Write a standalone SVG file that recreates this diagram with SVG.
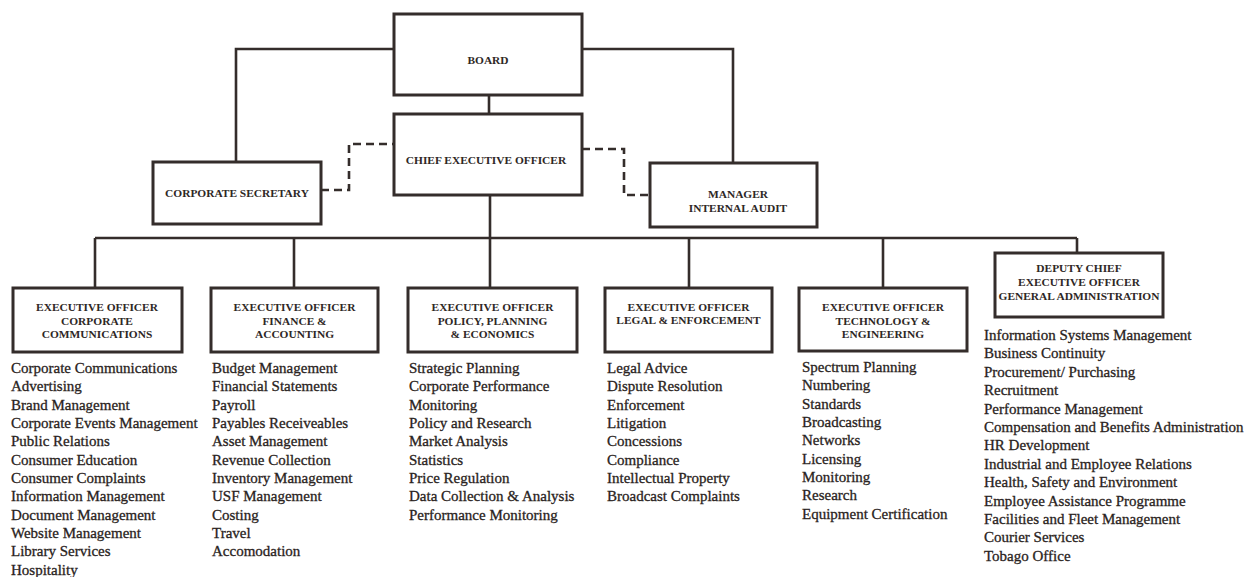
<svg xmlns="http://www.w3.org/2000/svg" width="1246" height="577" viewBox="0 0 1246 577">
<style>
.box{fill:#ffffff;stroke:#342d2b;stroke-width:3}
.ln{fill:none;stroke:#342d2b;stroke-width:2.6}
.dash{fill:none;stroke:#342d2b;stroke-width:2.6;stroke-dasharray:8 5}
.h{font-family:"Liberation Serif","Times New Roman",serif;font-weight:bold;font-size:11.4px;fill:#2e2725;text-anchor:middle}
.l{font-family:"Liberation Serif","Times New Roman",serif;font-size:15px;fill:#2a2321;stroke:#2a2321;stroke-width:0.3}
</style>
<rect width="1246" height="577" fill="#ffffff"/>
<g id="connectors">
<path class="ln" d="M394 49 H236 V162"/>
<path class="ln" d="M582 49 H733 V163"/>
<path class="ln" d="M489 95 V114"/>
<path class="ln" d="M490 195 V238"/>
<path class="ln" d="M95 238 H1077"/>
<path class="ln" d="M95 238 V288"/>
<path class="ln" d="M294 238 V288"/>
<path class="ln" d="M490 238 V288"/>
<path class="ln" d="M689 238 V288"/>
<path class="ln" d="M883 238 V288"/>
<path class="ln" d="M1077 238 V253"/>
<path class="dash" d="M321 190 H349 V144 H394"/>
<path class="dash" d="M582 149 H624 V195 H650"/>
</g>
<g id="board">
<rect class="box" x="394" y="14" width="188" height="81"/>
<text class="h" x="488" y="64">BOARD</text>
</g>
<g id="ceo">
<rect class="box" x="394" y="114" width="188" height="81"/>
<text class="h" x="486" y="164">CHIEF EXECUTIVE OFFICER</text>
</g>
<g id="corporate-secretary">
<rect class="box" x="153" y="162" width="168" height="62"/>
<text class="h" x="237" y="197">CORPORATE SECRETARY</text>
</g>
<g id="internal-audit">
<rect class="box" x="650" y="163" width="167" height="64"/>
<text class="h" x="738" y="198">MANAGER</text>
<text class="h" x="738" y="212">INTERNAL AUDIT</text>
</g>
<g id="eo-corporate-communications">
<rect class="box" x="13" y="288" width="169" height="64"/>
<text class="h" x="97" y="311">EXECUTIVE OFFICER</text>
<text class="h" x="97" y="325">CORPORATE</text>
<text class="h" x="97" y="338">COMMUNICATIONS</text>
<text class="l" x="11" y="373">Corporate Communications</text>
<text class="l" x="11" y="391.3">Advertising</text>
<text class="l" x="11" y="409.7">Brand Management</text>
<text class="l" x="11" y="428">Corporate Events Management</text>
<text class="l" x="11" y="446.3">Public Relations</text>
<text class="l" x="11" y="464.7">Consumer Education</text>
<text class="l" x="11" y="483">Consumer Complaints</text>
<text class="l" x="11" y="501.3">Information Management</text>
<text class="l" x="11" y="519.7">Document Management</text>
<text class="l" x="11" y="538">Website Management</text>
<text class="l" x="11" y="556.3">Library Services</text>
<text class="l" x="11" y="574.7">Hospitality</text>
</g>
<g id="eo-finance">
<rect class="box" x="211" y="288" width="167" height="64"/>
<text class="h" x="294.5" y="311">EXECUTIVE OFFICER</text>
<text class="h" x="294.5" y="325">FINANCE &amp;</text>
<text class="h" x="294.5" y="338">ACCOUNTING</text>
<text class="l" x="212" y="373">Budget Management</text>
<text class="l" x="212" y="391.3">Financial Statements</text>
<text class="l" x="212" y="409.7">Payroll</text>
<text class="l" x="212" y="428">Payables Receiveables</text>
<text class="l" x="212" y="446.3">Asset Management</text>
<text class="l" x="212" y="464.7">Revenue Collection</text>
<text class="l" x="212" y="483">Inventory Management</text>
<text class="l" x="212" y="501.3">USF Management</text>
<text class="l" x="212" y="519.7">Costing</text>
<text class="l" x="212" y="538">Travel</text>
<text class="l" x="212" y="556.3">Accomodation</text>
</g>
<g id="eo-policy">
<rect class="box" x="408" y="288" width="169" height="64"/>
<text class="h" x="492.5" y="311">EXECUTIVE OFFICER</text>
<text class="h" x="492.5" y="325">POLICY, PLANNING</text>
<text class="h" x="492.5" y="338">&amp; ECONOMICS</text>
<text class="l" x="409" y="373">Strategic Planning</text>
<text class="l" x="409" y="391.3">Corporate Performance</text>
<text class="l" x="409" y="409.7">Monitoring</text>
<text class="l" x="409" y="428">Policy and Research</text>
<text class="l" x="409" y="446.3">Market Analysis</text>
<text class="l" x="409" y="464.7">Statistics</text>
<text class="l" x="409" y="483">Price Regulation</text>
<text class="l" x="409" y="501.3">Data Collection &amp; Analysis</text>
<text class="l" x="409" y="519.7">Performance Monitoring</text>
</g>
<g id="eo-legal">
<rect class="box" x="605" y="288" width="167" height="64"/>
<text class="h" x="688.5" y="311">EXECUTIVE OFFICER</text>
<text class="h" x="688.5" y="324">LEGAL &amp; ENFORCEMENT</text>
<text class="l" x="607" y="373">Legal Advice</text>
<text class="l" x="607" y="391.3">Dispute Resolution</text>
<text class="l" x="607" y="409.7">Enforcement</text>
<text class="l" x="607" y="428">Litigation</text>
<text class="l" x="607" y="446.3">Concessions</text>
<text class="l" x="607" y="464.7">Compliance</text>
<text class="l" x="607" y="483">Intellectual Property</text>
<text class="l" x="607" y="501.3">Broadcast Complaints</text>
</g>
<g id="eo-technology">
<rect class="box" x="799" y="288" width="168" height="63"/>
<text class="h" x="883" y="311">EXECUTIVE OFFICER</text>
<text class="h" x="883" y="325">TECHNOLOGY &amp;</text>
<text class="h" x="883" y="338">ENGINEERING</text>
<text class="l" x="802" y="372">Spectrum Planning</text>
<text class="l" x="802" y="390.3">Numbering</text>
<text class="l" x="802" y="408.7">Standards</text>
<text class="l" x="802" y="427">Broadcasting</text>
<text class="l" x="802" y="445.3">Networks</text>
<text class="l" x="802" y="463.7">Licensing</text>
<text class="l" x="802" y="482">Monitoring</text>
<text class="l" x="802" y="500.3">Research</text>
<text class="l" x="802" y="518.7">Equipment Certification</text>
</g>
<g id="dceo-general-administration">
<rect class="box" x="995" y="253" width="168" height="64"/>
<text class="h" x="1079" y="272">DEPUTY CHIEF</text>
<text class="h" x="1079" y="286">EXECUTIVE OFFICER</text>
<text class="h" x="1079" y="300">GENERAL ADMINISTRATION</text>
<text class="l" x="984" y="340">Information Systems Management</text>
<text class="l" x="984" y="358.4">Business Continuity</text>
<text class="l" x="984" y="376.8">Procurement/ Purchasing</text>
<text class="l" x="984" y="395.2">Recruitment</text>
<text class="l" x="984" y="413.6">Performance Management</text>
<text class="l" x="984" y="432">Compensation and Benefits Administration</text>
<text class="l" x="984" y="450.4">HR Development</text>
<text class="l" x="984" y="468.8">Industrial and Employee Relations</text>
<text class="l" x="984" y="487.2">Health, Safety and Environment</text>
<text class="l" x="984" y="505.6">Employee Assistance Programme</text>
<text class="l" x="984" y="524">Facilities and Fleet Management</text>
<text class="l" x="984" y="542.4">Courier Services</text>
<text class="l" x="984" y="560.8">Tobago Office</text>
</g>
</svg>
